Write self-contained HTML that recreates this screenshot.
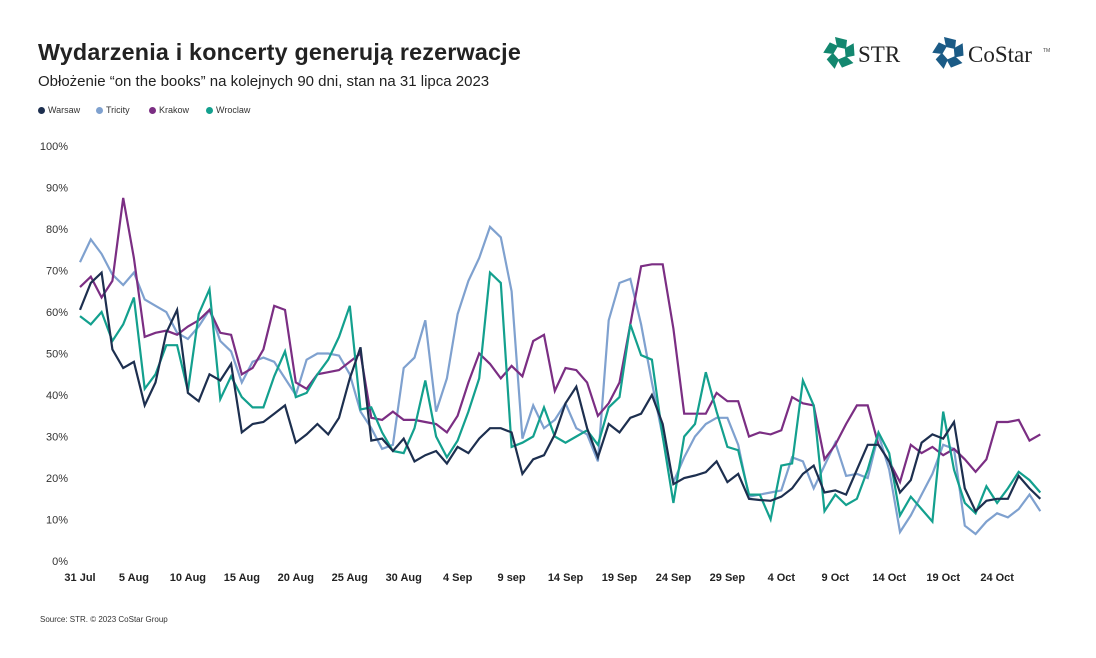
<!DOCTYPE html>
<html><head><meta charset="utf-8"><style>
body{margin:0;background:#fff;}
#wrap{position:relative;width:1096px;height:658px;overflow:hidden;font-family:"Liberation Sans","DejaVu Sans",sans-serif;color:#222;}
#title{position:absolute;left:38px;top:39px;font-size:23.3px;font-weight:bold;letter-spacing:0.2px;white-space:nowrap;}
#sub{position:absolute;left:38px;top:73px;font-size:15px;white-space:nowrap;}
#src{position:absolute;left:40px;top:615px;font-size:8px;color:#333;}
.leg{position:absolute;top:105px;font-size:9px;color:#333;white-space:nowrap;}
.leg i{display:inline-block;width:7px;height:7px;border-radius:50%;margin-right:3px;vertical-align:-1px;}
</style></head><body>
<div id="wrap">
<div id="title">Wydarzenia i koncerty generują rezerwacje</div>
<div id="sub">Obłożenie “on the books” na kolejnych 90 dni, stan na 31 lipca 2023</div>
<div class="leg" style="left:38px"><i style="background:#1d2f4f"></i>Warsaw</div>
<div class="leg" style="left:96px"><i style="background:#7fa1cf"></i>Tricity</div>
<div class="leg" style="left:149px"><i style="background:#7b2e83"></i>Krakow</div>
<div class="leg" style="left:206px"><i style="background:#13a08e"></i>Wroclaw</div>
<svg width="1096" height="658" style="position:absolute;left:0;top:0">
<g id="logos">
<g id="icon1"></g>
<text x="858" y="62" font-family="Liberation Serif,serif" font-size="23" fill="#222">STR</text>
<g id="icon2"></g>
<text x="968" y="62" font-family="Liberation Serif,serif" font-size="23" fill="#222">CoStar</text>
<text x="1043" y="52" font-family="Liberation Sans,sans-serif" font-size="5" fill="#444">TM</text>
</g>
<g id="yaxis"></g>
<g id="xaxis"></g>
<g id="series"></g>
</svg>
<div id="src">Source: STR. © 2023 CoStar Group</div>
</div>
<script>
const xLabels=["31 Jul","5 Aug","10 Aug","15 Aug","20 Aug","25 Aug","30 Aug","4 Sep","9 sep","14 Sep","19 Sep","24 Sep","29 Sep","4 Oct","9 Oct","14 Oct","19 Oct","24 Oct"];
const yTicks=[0,10,20,30,40,50,60,70,80,90,100];
const warsaw=[60.5,67,69.5,51,46.5,48,37.5,43,55,60.5,40.5,38.5,45,43.5,47.5,31,33,33.5,35.5,37.5,28.5,30.5,33,30.5,34.5,44,51.5,29,29.5,26.5,29.5,24,25.5,26.5,23.5,27.5,26,29.5,32,32,31,21,24.5,25.5,30.5,38,42,32,25,33,31,34.5,35.5,40,33,18.5,20,20.6,21.4,24,19,21,15,14.7,14.5,15.5,17.5,21,23,16.5,17,16,22,28,28,24,16.5,19.5,28.5,30.5,29.5,33.5,17.5,12,14.5,15,15,20.5,17.5,15];
const tricity=[72,77.5,74,69,66.5,69.5,63,61.5,60,55,53.5,56.5,60.5,53,50.5,43,48,49,48,44,40,48.5,50,50,49.5,45,36,32,27,28,46.5,49,58,36,44,59.5,67.5,73,80.5,78,65,29.5,37.5,32,34,38,32,30.5,24,58,67,68,57,43,30,19,25,30,33,34.5,34.5,28,15.5,16,16.5,17,25,24,17.5,23,28.5,20.5,21,20,30.5,22,7,11,16,21,28,27,8.5,6.5,9.5,11.5,10.5,12.5,16,12];
const krakow=[66,68.5,63.5,67.5,87.5,73,54,55,55.5,54.5,56.5,58,60.5,55,54.5,45,46.5,51,61.5,60.5,43,41.5,45,45.5,46,48,50,34.5,34,36,34,34,33.5,33,31,35,43,50,47.5,44,47,44.5,53,54.5,41,46.5,46,43,35,38,43,57,71,71.5,71.5,56,35.5,35.5,35.5,40.5,38.5,38.5,30,31,30.5,31.5,39.5,38,37.5,24.5,28,33,37.5,37.5,28,24,19,28,26,27.5,25.5,27,24.5,21.5,24.5,33.5,33.5,34,29,30.5];
const wroclaw=[59,57,60,53,57,63.5,41.5,45,52,52,41,59.5,65.5,39,44.5,39.5,37,37,44.5,50.5,39.5,40.5,45,48.5,54,61.5,36.5,37,31,26.5,26,32,43.5,30,25,29,36,44,69.5,67,27.5,28.5,30,37,30,28.5,30,31.5,28,37,39.5,57,49.6,48.5,30,14,30,33,45.5,36,27.5,26.7,16,16,10,23,23.5,43.5,37.5,12,16,13.5,15,22,31,26,11,15.5,12.5,9.5,36,22,14,11.5,18,14,17.5,21.5,19.5,16.5];
const NS="http://www.w3.org/2000/svg";
const X0=80,DX=10.79,Y0=561,PY=4.15;
function xs(i){return X0+i*DX;}
function ys(v){return Y0-v*PY;}
function mk(t,a,parent){const e=document.createElementNS(NS,t);for(const k in a)e.setAttribute(k,a[k]);parent.appendChild(e);return e;}
const ya=document.getElementById('yaxis');
yTicks.forEach(v=>{const t=mk('text',{x:68,y:ys(v)+4,'text-anchor':'end','font-size':11,fill:'#333'},ya);t.textContent=v+'%';

});
const xa=document.getElementById('xaxis');
xLabels.forEach((l,k)=>{const t=mk('text',{x:xs(k*5),y:581,'text-anchor':'middle','font-size':11,'font-weight':'bold',fill:'#222'},xa);t.textContent=l;

});
const sg=document.getElementById('series');
[[tricity,'#7fa1cf','tricity'],[krakow,'#7b2e83','krakow'],[wroclaw,'#13a08e','wroclaw'],[warsaw,'#1d2f4f','warsaw']].forEach(([d,c,n])=>{
const p=mk('polyline',{points:d.map((v,i)=>xs(i).toFixed(1)+','+ys(v).toFixed(1)).join(' '),fill:'none',stroke:c,'stroke-width':2.2,'stroke-linejoin':'miter'},sg);

});
function icon(g,cx,cy,col){for(let k=0;k<5;k++){const a=k*72;
const p=mk('polygon',{points:'-5,-16 7,-13 6,-4 -3,-6',fill:col,transform:`translate(${cx},${cy}) rotate(${a})`},g);

}}
icon(document.getElementById('icon1'),840,53,'#13876f');
icon(document.getElementById('icon2'),949,53,'#1b5b86');
</script>
</body></html>
